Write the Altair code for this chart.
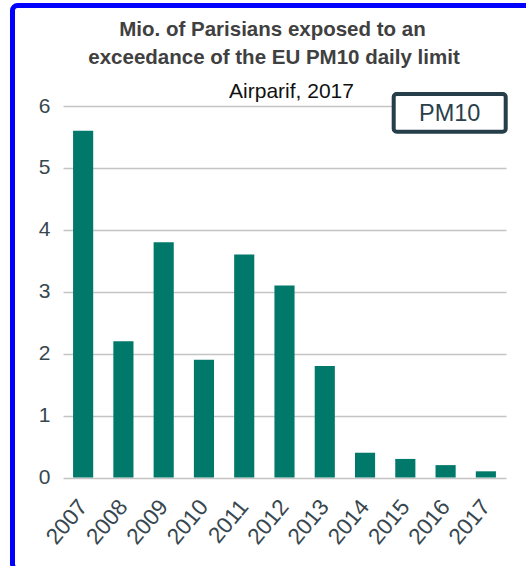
import altair as alt
import pandas as pd

# Millions of Parisians exposed to an exceedance of the EU PM10 daily limit
years = ["2007", "2008", "2009", "2010", "2011", "2012", "2013", "2014", "2015", "2016", "2017"]
exposed = [5.6, 2.2, 3.8, 1.9, 3.6, 3.1, 1.8, 0.4, 0.3, 0.2, 0.1]
y_ticks = [0, 1, 2, 3, 4, 5, 6]

title_lines = ["Mio. of Parisians exposed to an", "exceedance of the  EU PM10 daily limit"]
subtitle = ["Airparif, 2017"]
legend_label = ["PM10"]

W, H = 443, 371.5
FONT = "Liberation Sans"
TEXT_DARK = "#37474F"

df = pd.DataFrame({"year": years, "exposed": exposed})
one = pd.DataFrame({"k": [0]})

bars = alt.Chart(df).mark_bar(color="#00796B").encode(
    x=alt.X(
        "year:N",
        sort=years,
        title=None,
        scale=alt.Scale(paddingInner=0.5, paddingOuter=0.25),
        axis=alt.Axis(
            labelAngle=-50,
            labelFontSize=22.5,
            labelColor=TEXT_DARK,
            labelFont=FONT,
            ticks=False,
            domain=False,
            grid=False,
            labelPadding=25,
        ),
    ),
    y=alt.Y(
        "exposed:Q",
        title=None,
        scale=alt.Scale(domain=[0, 6], nice=False),
        axis=alt.Axis(
            values=y_ticks,
            labelFontSize=21,
            labelColor=TEXT_DARK,
            labelFont=FONT,
            ticks=False,
            domain=False,
            gridColor="#c4c4c4",
            gridWidth=1.5,
            labelPadding=13,
        ),
    ),
)

# outer blue frame around the whole figure
frame = alt.Chart(one).mark_rect(
    filled=False, stroke="#0000FF", strokeWidth=5, cornerRadius=5
).encode(
    x=alt.value(-50.5), x2=alt.value(468), y=alt.value(-100.5), y2=alt.value(463)
)

# two-line bold heading
heading = alt.Chart(pd.DataFrame({"line": title_lines, "dx": [209.5, 211], "dy": [-70.3, -41.7]})).mark_text(
    fontSize=20.5, fontWeight="bold", font=FONT,
    color="#404040", align="center", baseline="alphabetic"
).encode(
    text="line:N",
    x=alt.X("dx:Q", scale=None),
    y=alt.Y("dy:Q", scale=None),
)

sub = alt.Chart(pd.DataFrame({"s": subtitle})).mark_text(
    fontSize=21, fontWeight="normal", font=FONT, color="#111111",
    align="center", baseline="alphabetic"
).encode(text="s:N", x=alt.value(228.5), y=alt.value(-8.5))

legend_box = alt.Chart(one).mark_rect(
    filled=True, fill="white", stroke="#263D4A", strokeWidth=4, cornerRadius=3
).encode(
    x=alt.value(330.7), x2=alt.value(442.7), y=alt.value(-12), y2=alt.value(25.7)
)

legend_text = alt.Chart(pd.DataFrame({"s": legend_label})).mark_text(
    fontSize=23.5, fontWeight="normal", font=FONT, color="#2B3F4C",
    align="center", baseline="middle"
).encode(text="s:N", x=alt.value(386.7), y=alt.value(7.5))

chart = alt.layer(
    bars, frame, heading, sub, legend_box, legend_text
).properties(
    width=W,
    height=H,
    autosize=alt.AutoSizeParams(type="none"),
    padding={"left": 63, "top": 106, "right": 20, "bottom": 88.5},
    background="white",
).configure_view(stroke=None)

chart.save("out.html", embed_options={"renderer": "svg", "actions": False})
